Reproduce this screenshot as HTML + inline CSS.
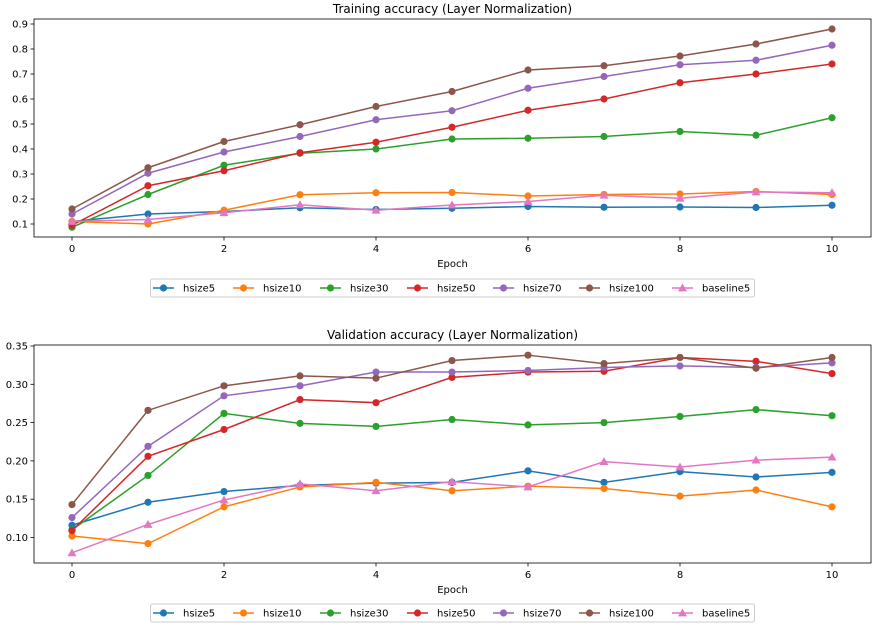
<!DOCTYPE html>
<html><head><meta charset="utf-8"><style>
html,body{margin:0;padding:0;background:#fff;}
svg{display:block;font-family:"DejaVu Sans","Liberation Sans",sans-serif;}
</style></head><body>
<svg id="chart" width="873" height="631" viewBox="0 0 873 631"></svg>
<script>
const epochs=[0,1,2,3,4,5,6,7,8,9,10];
const seriesNames=["hsize5","hsize10","hsize30","hsize50","hsize70","hsize100","baseline5"];
const colors=["#1f77b4","#ff7f0e","#2ca02c","#d62728","#9467bd","#8c564b","#e377c2"];
const trainH5=[0.11,0.14,0.15,0.165,0.158,0.163,0.17,0.167,0.168,0.166,0.175];
const trainH10=[0.11,0.10,0.155,0.217,0.225,0.226,0.212,0.218,0.22,0.23,0.218];
const trainH30=[0.087,0.218,0.335,0.383,0.40,0.44,0.443,0.45,0.47,0.455,0.525];
const trainH50=[0.095,0.253,0.313,0.385,0.427,0.487,0.555,0.6,0.665,0.7,0.74];
const trainH70=[0.14,0.303,0.388,0.45,0.517,0.553,0.643,0.69,0.737,0.755,0.815];
const trainH100=[0.16,0.325,0.43,0.497,0.57,0.63,0.716,0.733,0.772,0.82,0.88];
const trainBase=[0.11,0.118,0.145,0.177,0.155,0.176,0.19,0.215,0.203,0.228,0.225];
const valH5=[0.116,0.146,0.160,0.168,0.171,0.172,0.187,0.172,0.186,0.179,0.185];
const valH10=[0.102,0.092,0.140,0.166,0.172,0.161,0.167,0.164,0.154,0.162,0.140];
const valH30=[0.110,0.181,0.262,0.249,0.245,0.254,0.247,0.250,0.258,0.267,0.259];
const valH50=[0.109,0.206,0.241,0.280,0.276,0.309,0.316,0.317,0.335,0.330,0.314];
const valH70=[0.126,0.219,0.285,0.298,0.316,0.316,0.318,0.322,0.324,0.322,0.328];
const valH100=[0.143,0.266,0.298,0.311,0.308,0.331,0.338,0.327,0.335,0.321,0.335];
const valBase=[0.080,0.117,0.149,0.170,0.161,0.173,0.166,0.199,0.192,0.201,0.205];
const xTicks=[0,2,4,6,8,10];
const trainYTicks=[0.1,0.2,0.3,0.4,0.5,0.6,0.7,0.8,0.9];
const valYTicks=[0.10,0.15,0.20,0.25,0.30,0.35];

const NS="http://www.w3.org/2000/svg";
const svg=document.getElementById('chart');
function mk(tag,attrs,parent){const e=document.createElementNS(NS,tag);for(const k in attrs)e.setAttribute(k,attrs[k]);(parent||svg).appendChild(e);return e;}

function marker(g,i,x,y){
  if(i===6){const s=4.5;return mk('polygon',{points:`${x},${y-s} ${x-s},${y+s*0.75} ${x+s},${y+s*0.75}`,fill:colors[i]},g);}
  return mk('circle',{cx:x,cy:y,r:3.6,fill:colors[i]},g);
}

function panel(cfg){
  const {left,right,top,bottom,y0,y0px,pxPer,title,data,yTicks,dec,name,legendY}=cfg;
  const g=mk('g',{});
  
  
  const xs=v=>72+v*76;
  const ys=v=>y0px-(v-y0)*pxPer;
  const t=mk('text',{x:(left+right)/2,y:top-6,'text-anchor':'middle','font-size':12,fill:'#000'},g);
  t.textContent=title;
  
  
  xTicks.forEach(v=>{
    mk('line',{x1:xs(v),x2:xs(v),y1:bottom,y2:bottom+3.5,stroke:'#000','stroke-width':0.8},g);
    const tt=mk('text',{x:xs(v),y:bottom+15,'text-anchor':'middle','font-size':10,fill:'#000'},g);
    tt.textContent=v;
    
    
  });
  yTicks.forEach(v=>{
    mk('line',{x1:left-3.5,x2:left,y1:ys(v),y2:ys(v),stroke:'#000','stroke-width':0.8},g);
    const tt=mk('text',{x:left-6,y:ys(v)+3.5,'text-anchor':'end','font-size':10,fill:'#000'},g);
    tt.textContent=v.toFixed(dec);
    
    
  });
  const xl=mk('text',{x:(left+right)/2,y:bottom+30,'text-anchor':'middle','font-size':10,fill:'#000'},g);
  xl.textContent='Epoch';
  
  
  data.forEach((arr,i)=>{
    const sg=mk('g',{},g);
    
    
    mk('polyline',{points:arr.map((v,k)=>xs(epochs[k])+','+ys(v)).join(' '),fill:'none',stroke:colors[i],'stroke-width':1.5},sg);
    arr.forEach((v,k)=>{const m=marker(sg,i,xs(epochs[k]),ys(v));
      
      });
  });
  mk('rect',{x:left,y:top,width:right-left,height:bottom-top,fill:'none',stroke:'#000','stroke-width':0.8},g);
  const lg=mk('g',{},g);
  
  
  mk('rect',{x:150.5,y:legendY,width:604,height:18,rx:2,fill:'#fff',stroke:'#ccc','stroke-width':1},lg);
  const lx=[153,233,320,407,493,579,672];
  seriesNames.forEach((n,i)=>{
    const e=mk('g',{},lg);
    
    
    const cy=legendY+9;
    mk('line',{x1:lx[i],x2:lx[i]+21,y1:cy,y2:cy,stroke:colors[i],'stroke-width':1.5},e);
    marker(e,i,lx[i]+10.5,cy);
    const tx=mk('text',{x:lx[i]+30,y:cy+3.5,'font-size':10,fill:'#000'},e);
    tx.textContent=n;
  });
}
panel({left:34,right:871,top:19,bottom:237,y0:0.1,y0px:224,pxPer:250,title:'Training accuracy (Layer Normalization)',
  data:[trainH5,trainH10,trainH30,trainH50,trainH70,trainH100,trainBase],yTicks:trainYTicks,dec:1,name:'training-accuracy-chart',legendY:279});
panel({left:34,right:871,top:345,bottom:563,y0:0.1,y0px:537.5,pxPer:766,title:'Validation accuracy (Layer Normalization)',
  data:[valH5,valH10,valH30,valH50,valH70,valH100,valBase],yTicks:valYTicks,dec:2,name:'validation-accuracy-chart',legendY:604});
</script>
</body></html>
